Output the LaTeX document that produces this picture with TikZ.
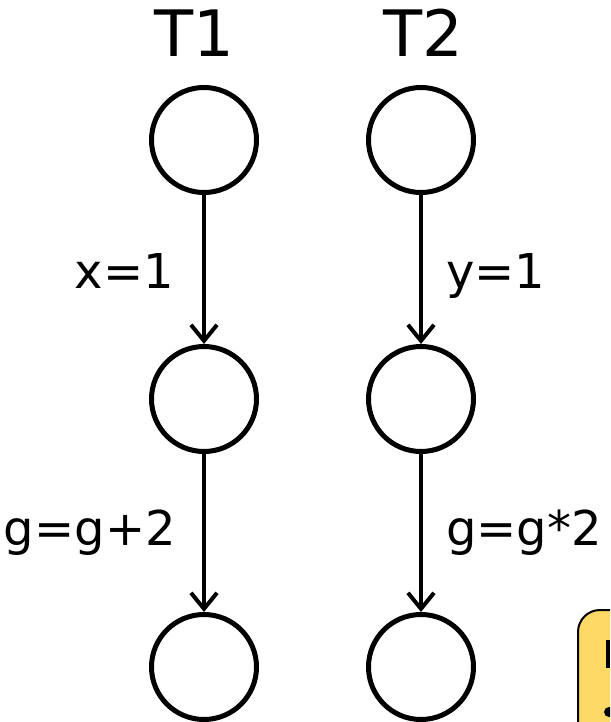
\documentclass[tikz,border=0pt]{standalone}
\usepackage{fontspec}
\setmainfont{DejaVu Sans}
\usetikzlibrary{arrows.meta}
\definecolor{noteyellow}{HTML}{FFD966}
\begin{document}
\begin{tikzpicture}[x=1pt,y=-1pt,
  state/.style={circle,draw=black,line width=5pt,minimum size=105pt,inner sep=0pt},
  trans/.style={line width=4pt,-{Straight Barb[length=16pt,width=26pt,line width=4pt]},shorten >=0pt},
  thread/.style={font=\fontsize{64}{64}\selectfont,inner sep=0pt},
  lab/.style={font=\fontsize{48}{48}\selectfont,inner sep=0pt}]
\clip (0,0) rectangle (610,722);
\fill[white] (0,0) rectangle (610,722);
% yellow note box (partially visible)
\draw[fill=noteyellow,line width=2pt,rounded corners=22pt] (578,610) rectangle (700,760);
\fill (606,640) rectangle (610,668);
\fill (609,712) circle (5pt);
% thread labels
\node[thread,anchor=base] (t1) at (194,57) {T1};
\node[thread,anchor=base] (t2) at (423,57) {T2};
% states
\node[state] (a1) at (204,140) {};
\node[state] (a2) at (204,399) {};
\node[state] (a3) at (204,667) {};
\node[state] (b1) at (421,140) {};
\node[state] (b2) at (421,399) {};
\node[state] (b3) at (421,667) {};
% transitions
\draw[trans] (a1) -- (a2);
\draw[trans] (a2) -- (a3);
\draw[trans] (b1) -- (b2);
\draw[trans] (b2) -- (b3);
% labels
\node[lab,anchor=base east] (l1) at (174,288) {x=1};
\node[lab,anchor=base east] (l2) at (176,545) {g=g+2};
\node[lab,anchor=base west] (l3) at (446,288) {y=1};
\node[lab,anchor=base west] (l4) at (446,545) {g=g*2};
\end{tikzpicture}
\end{document}
